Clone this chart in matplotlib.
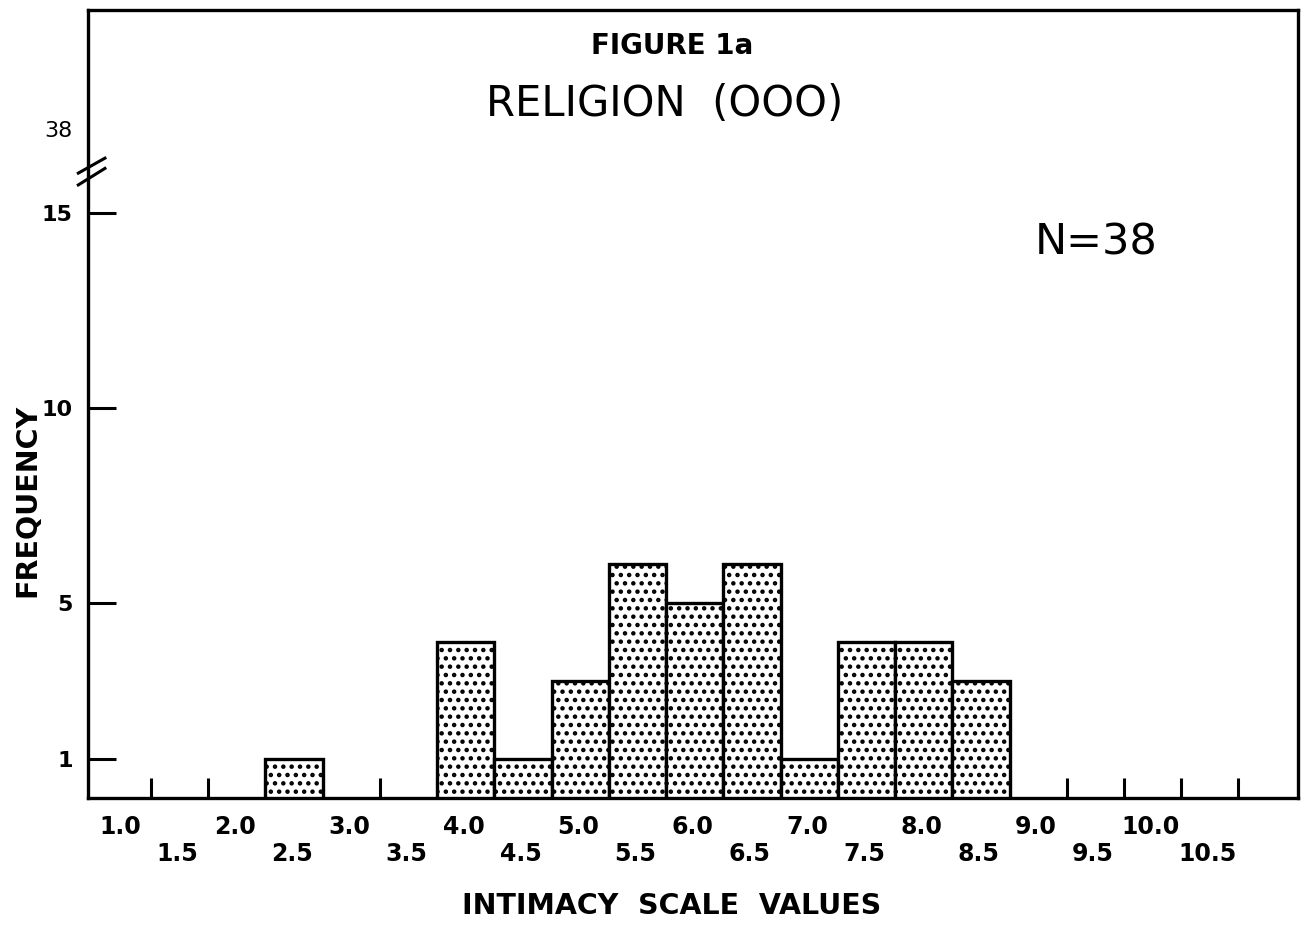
import matplotlib
matplotlib.use("Agg")
import matplotlib.pyplot as plt

# ---- data ----
scale_values = [2.5, 4.0, 4.5, 5.0, 5.5, 6.0, 6.5, 7.0, 7.5, 8.0, 8.5]
frequencies = [1, 4, 1, 3, 6, 5, 6, 1, 4, 4, 3]
upper_labels = ["1.0", "2.0", "3.0", "4.0", "5.0", "6.0", "7.0", "8.0", "9.0", "10.0"]
upper_pos = [1.0, 2.0, 3.0, 4.0, 5.0, 6.0, 7.0, 8.0, 9.0, 10.0]
lower_labels = ["1.5", "2.5", "3.5", "4.5", "5.5", "6.5", "7.5", "8.5", "9.5", "10.5"]
lower_pos = [1.5, 2.5, 3.5, 4.5, 5.5, 6.5, 7.5, 8.5, 9.5, 10.5]
y_ticks = [1, 5, 10, 15]
y_tick_labels = ["1", "5", "10", "15"]
tick_marks = [1.25, 1.75, 2.25, 2.75, 3.25, 3.75, 4.25, 4.75, 5.25, 5.75, 6.25,
              6.75, 7.25, 7.75, 8.25, 8.75, 9.25, 9.75, 10.25, 10.75]
total_n = 38
break_label_y = 17.1  # display position of the "38" label above the axis break

plt.rcParams['font.family'] = ['DejaVu Sans']
plt.rcParams['hatch.color'] = 'black'
plt.rcParams['hatch.linewidth'] = 2.0

W, H = 1303, 926
fig = plt.figure(figsize=(W / 100, H / 100), dpi=100)
ax = fig.add_axes([88 / W, 1 - 798 / H, (1298 - 88) / W, (798 - 10) / H])
ax.set_xlim(0.70, 11.27)
ax.set_ylim(0, 20.2)

for s in ax.spines.values():
    s.set_linewidth(2.4)
    s.set_color('black')

# x tick marks (inward) at class boundaries
for t in tick_marks:
    ax.plot([t, t], [0, 0.5], color='black', lw=2.2, solid_capstyle='butt', zorder=1)

ax.bar(scale_values, frequencies, width=0.5, facecolor='white', edgecolor='black',
       linewidth=2.4, hatch='..', zorder=3)

ax.set_xticks([])
ax.set_yticks(y_ticks)
ax.set_yticklabels(y_tick_labels, fontsize=16, fontweight='bold')
ax.tick_params(axis='y', direction='in', length=20, width=2.2, pad=11)

# staggered x labels
for p, l in zip(upper_pos, upper_labels):
    ax.text(p - 0.02, -0.74, l, ha='center', va='center', fontsize=17, fontweight='bold')
for p, l in zip(lower_pos, lower_labels):
    ax.text(p - 0.02, -1.44, l, ha='center', va='center', fontsize=17, fontweight='bold')

# axis break at top of y axis
for y0, y1 in ((0.793, 0.812), (0.778, 0.799)):
    ax.plot([-0.008, 0.014], [y0, y1], transform=ax.transAxes,
            color='black', lw=2.2, clip_on=False)
ax.text(-0.0124, break_label_y, str(total_n), transform=ax.get_yaxis_transform(),
        ha='right', va='center', fontsize=16)

fig.text(672 / W, 1 - 46 / H, "FIGURE 1a", ha='center', va='center',
         fontsize=20, fontweight='bold')
fig.text(665 / W, 1 - 104 / H, "RELIGION  (OOO)", ha='center', va='center', fontsize=30)
fig.text(1096 / W, 1 - 243 / H, f"N={total_n}", ha='center', va='center', fontsize=31)
fig.text(27 / W, 1 - 500 / H, "FREQUENCY", ha='center', va='center', rotation=90,
         fontsize=20.5, fontweight='bold')
fig.text(672 / W, 1 - 906 / H, "INTIMACY  SCALE  VALUES", ha='center', va='center',
         fontsize=20.5, fontweight='bold')

fig.savefig("out.png", dpi=100)
